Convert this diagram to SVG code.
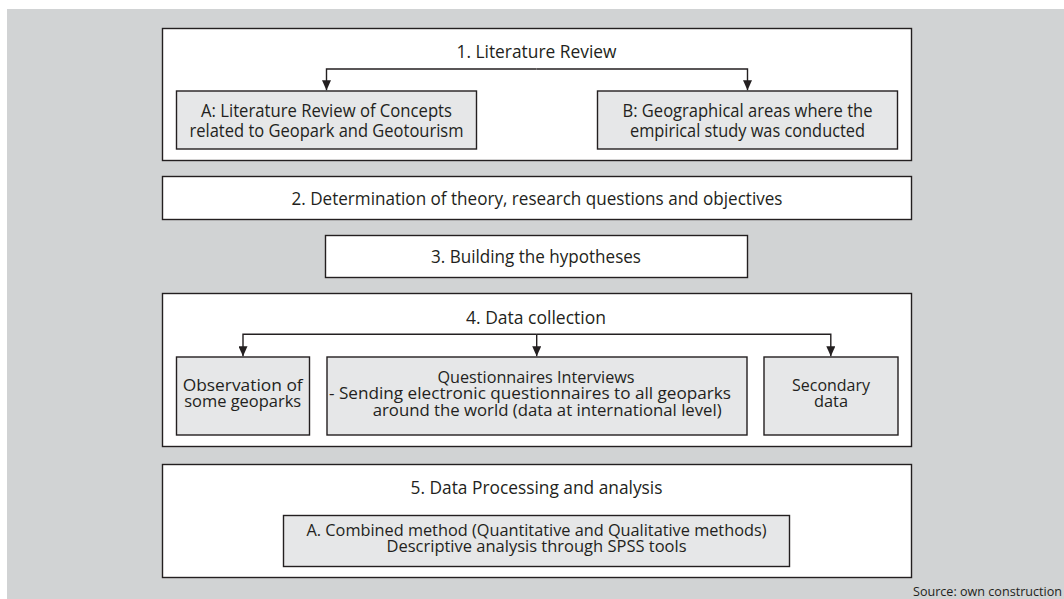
<svg xmlns="http://www.w3.org/2000/svg" width="1064" height="599" viewBox="0 0 1064 599">
<style>
.bg{fill:#d1d3d4}
.outer{fill:#ffffff;stroke:#231f20;stroke-width:1.4}
.inner{fill:#e6e7e8;stroke:#231f20;stroke-width:1.4}
text{font-family:"Open Sans","Liberation Sans",sans-serif;font-size:17.5px;fill:#231f20}
.c{text-anchor:middle}
.s{font-size:16px}
.conn{fill:none;stroke:#231f20;stroke-width:1.4}
.src{font-size:12.5px}
</style>
<defs>
<marker id="arr" viewBox="0 0 10 9" refX="10" refY="4.5" markerWidth="10" markerHeight="9" markerUnits="userSpaceOnUse" orient="auto">
<path d="M0,0 L10,4.5 L0,9 z" fill="#231f20"/>
</marker>
</defs>
<rect class="bg" x="7" y="9" width="1057" height="590"/>

<g id="step1">
<rect class="outer" x="162.5" y="28.5" width="749" height="132"/>
<text class="c" x="536.5" y="57.5" textLength="160" lengthAdjust="spacingAndGlyphs">1. Literature Review</text>
</g>
<g id="step1a">
<rect class="inner" x="176.5" y="91" width="300" height="58"/>
<text class="c" x="326.5" y="117" textLength="251" lengthAdjust="spacingAndGlyphs">A: Literature Review of Concepts</text>
<text class="c" x="326.5" y="136.5" textLength="274" lengthAdjust="spacingAndGlyphs">related to Geopark and Geotourism</text>
</g>
<g id="step1b">
<rect class="inner" x="597.5" y="91" width="300" height="58"/>
<text class="c" x="747.5" y="117" textLength="250" lengthAdjust="spacingAndGlyphs">B: Geographical areas where the</text>
<text class="c" x="747.5" y="136.5" textLength="235" lengthAdjust="spacingAndGlyphs">empirical study was conducted</text>
</g>

<g id="step2">
<rect class="outer" x="162.5" y="176.5" width="749" height="43"/>
<text class="c" x="537" y="205" textLength="491" lengthAdjust="spacingAndGlyphs">2. Determination of theory, research questions and objectives</text>
</g>

<g id="step3">
<rect class="outer" x="325.5" y="235.5" width="422" height="42"/>
<text class="c" x="536" y="263" textLength="210" lengthAdjust="spacingAndGlyphs">3. Building the hypotheses</text>
</g>

<g id="step4">
<rect class="outer" x="162.5" y="293.5" width="749" height="153"/>
<text class="c" x="536" y="324" textLength="140" lengthAdjust="spacingAndGlyphs">4. Data collection</text>
</g>
<g id="step4a">
<rect class="inner" x="176.5" y="357" width="133" height="78"/>
<text class="c s" x="242.7" y="391" textLength="120" lengthAdjust="spacingAndGlyphs">Observation of</text>
<text class="c s" x="242.7" y="407" textLength="117" lengthAdjust="spacingAndGlyphs">some geoparks</text>
</g>
<g id="step4b">
<rect class="inner" x="327" y="357" width="420" height="78"/>
<text class="c s" x="536" y="382.5" textLength="197" lengthAdjust="spacingAndGlyphs">Questionnaires Interviews</text>
<text class="s" x="329" y="399" textLength="402" lengthAdjust="spacingAndGlyphs">- Sending electronic questionnaires to all geoparks</text>
<text class="s" x="372.7" y="415.5" textLength="349" lengthAdjust="spacingAndGlyphs">around the world (data at international level)</text>
</g>
<g id="step4c">
<rect class="inner" x="764" y="357" width="134" height="78"/>
<text class="c s" x="831" y="391" textLength="78" lengthAdjust="spacingAndGlyphs">Secondary</text>
<text class="c s" x="831" y="407" textLength="34" lengthAdjust="spacingAndGlyphs">data</text>
</g>

<g id="step5">
<rect class="outer" x="162.5" y="464.5" width="749" height="113"/>
<text class="c" x="536.5" y="494" textLength="252" lengthAdjust="spacingAndGlyphs">5. Data Processing and analysis</text>
</g>
<g id="step5a">
<rect class="inner" x="283.5" y="515.5" width="506" height="51"/>
<text class="c s" x="536.5" y="536" textLength="460" lengthAdjust="spacingAndGlyphs">A. Combined method (Quantitative and Qualitative methods)</text>
<text class="c s" x="536.5" y="551.5" textLength="300" lengthAdjust="spacingAndGlyphs">Descriptive analysis through SPSS tools</text>
</g>

<g id="connectors">
<path class="conn" d="M536.5,69 H326.5 V90.3" marker-end="url(#arr)"/>
<path class="conn" d="M536.5,69 H747.5 V90.3" marker-end="url(#arr)"/>
<path class="conn" d="M536.7,334.3 H243 V356.3" marker-end="url(#arr)"/>
<path class="conn" d="M536.7,334.3 V356.3" marker-end="url(#arr)"/>
<path class="conn" d="M536.7,334.3 H830.8 V356.3" marker-end="url(#arr)"/>
</g>

<text class="src" x="1062" y="596" text-anchor="end" textLength="149" lengthAdjust="spacingAndGlyphs">Source: own construction</text>
</svg>
